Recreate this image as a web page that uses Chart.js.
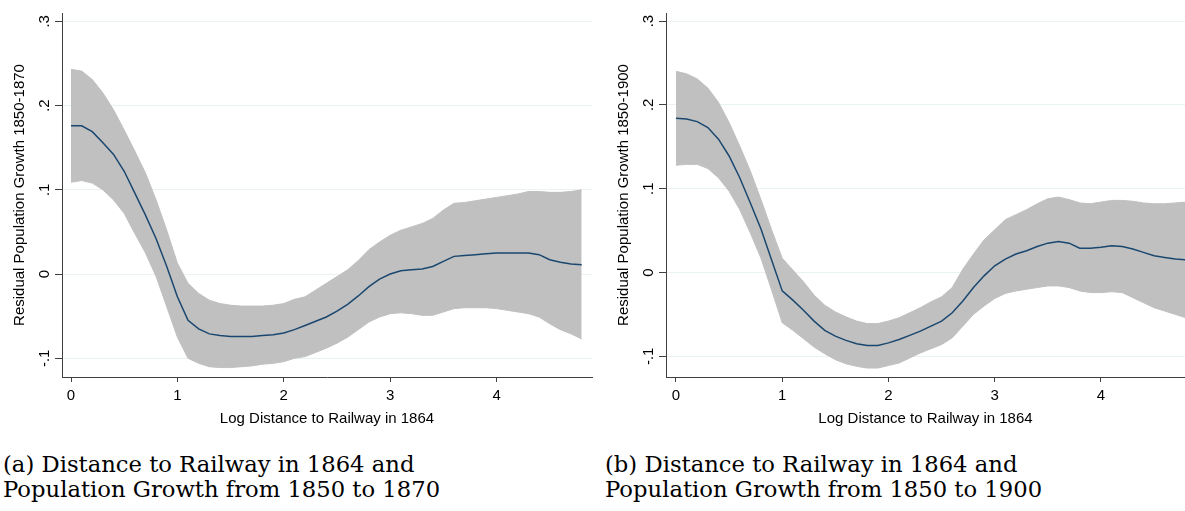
<!DOCTYPE html>
<html>
<head>
<meta charset="utf-8">
<script src="https://cdn.jsdelivr.net/npm/chart.js@4.4.1/dist/chart.umd.min.js"></script>
<style>
  body { margin: 0; background: #fff; width: 1185px; height: 511px; overflow: hidden; position: relative; }
  canvas { position: absolute; top: 0; }
  #left { left: 0; }
  #right { left: 604px; }
  .cap { position: absolute; top: 452px; font-family: 'DejaVu Serif', serif; font-size: 22.7px; line-height: 25px; color: #000; white-space: nowrap; }
</style>
</head>
<body>
<canvas id="left" width="600" height="440"></canvas>
<canvas id="right" width="581" height="440"></canvas>
<div class="cap" style="left:3px">(a) Distance to Railway in 1864 and<br>Population Growth from 1850 to 1870</div>
<div class="cap" style="left:605px">(b) Distance to Railway in 1864 and<br>Population Growth from 1850 to 1900</div>
<script>
// --- DATOS ---
const xVals = [0, 0.1, 0.2, 0.3, 0.4, 0.5, 0.6, 0.7, 0.8, 0.9,
               1.0, 1.1, 1.2, 1.3, 1.4, 1.5, 1.6, 1.7, 1.8, 1.9,
               2.0, 2.1, 2.2, 2.3, 2.4, 2.5, 2.6, 2.7, 2.8, 2.9,
               3.0, 3.1, 3.2, 3.3, 3.4, 3.5, 3.6, 3.7, 3.8, 3.9,
               4.0, 4.1, 4.2, 4.3, 4.4, 4.5, 4.6, 4.7, 4.8];

// panel (a) 1850-1870
const fitA   = [0.176, 0.176, 0.169, 0.156, 0.142, 0.122, 0.096, 0.070, 0.042, 0.009,
                -0.027, -0.055, -0.065, -0.071, -0.073, -0.074, -0.074, -0.074, -0.073, -0.072,
                -0.070, -0.066, -0.061, -0.056, -0.051, -0.044, -0.036, -0.026, -0.015, -0.006,
                0.000, 0.004, 0.005, 0.006, 0.009, 0.015, 0.021, 0.022, 0.023, 0.024,
                0.025, 0.025, 0.025, 0.025, 0.023, 0.017, 0.014, 0.012, 0.011];
const upperA = [0.243, 0.241, 0.231, 0.215, 0.195, 0.171, 0.146, 0.120, 0.088, 0.052,
                0.013, -0.011, -0.023, -0.031, -0.035, -0.037, -0.038, -0.038, -0.038, -0.037,
                -0.035, -0.030, -0.027, -0.019, -0.011, -0.003, 0.005, 0.016, 0.029, 0.038,
                0.046, 0.052, 0.056, 0.060, 0.066, 0.076, 0.084, 0.085, 0.087, 0.089,
                0.091, 0.093, 0.095, 0.098, 0.098, 0.097, 0.097, 0.098, 0.100];
const lowerA = [0.109, 0.111, 0.108, 0.100, 0.088, 0.072, 0.048, 0.025, -0.003, -0.039,
                -0.075, -0.100, -0.106, -0.110, -0.111, -0.111, -0.110, -0.109, -0.107, -0.106,
                -0.104, -0.100, -0.098, -0.093, -0.088, -0.082, -0.075, -0.066, -0.057, -0.051,
                -0.047, -0.046, -0.047, -0.049, -0.049, -0.045, -0.041, -0.040, -0.040, -0.040,
                -0.041, -0.043, -0.045, -0.047, -0.051, -0.059, -0.066, -0.071, -0.077];

// panel (b) 1850-1900
const fitB   = [0.184, 0.183, 0.180, 0.173, 0.159, 0.139, 0.113, 0.083, 0.052, 0.015,
                -0.022, -0.033, -0.045, -0.058, -0.069, -0.076, -0.081, -0.085, -0.087, -0.087,
                -0.084, -0.080, -0.075, -0.070, -0.064, -0.058, -0.048, -0.034, -0.018, -0.004,
                0.008, 0.016, 0.022, 0.026, 0.031, 0.035, 0.037, 0.035, 0.029, 0.029,
                0.030, 0.032, 0.031, 0.028, 0.024, 0.020, 0.018, 0.016, 0.015];
const upperB = [0.240, 0.237, 0.231, 0.220, 0.203, 0.179, 0.151, 0.121, 0.087, 0.051,
                0.017, 0.003, -0.011, -0.027, -0.039, -0.047, -0.053, -0.058, -0.061, -0.061,
                -0.058, -0.054, -0.048, -0.042, -0.035, -0.029, -0.018, 0.004, 0.022, 0.039,
                0.051, 0.063, 0.069, 0.075, 0.082, 0.088, 0.090, 0.087, 0.083, 0.082,
                0.084, 0.086, 0.086, 0.085, 0.083, 0.082, 0.082, 0.083, 0.084];
const lowerB = [0.128, 0.129, 0.129, 0.124, 0.113, 0.097, 0.075, 0.047, 0.017, -0.021,
                -0.060, -0.069, -0.079, -0.089, -0.097, -0.104, -0.109, -0.112, -0.114, -0.114,
                -0.111, -0.108, -0.102, -0.096, -0.091, -0.086, -0.078, -0.064, -0.050, -0.040,
                -0.031, -0.025, -0.022, -0.020, -0.018, -0.016, -0.016, -0.018, -0.022, -0.024,
                -0.024, -0.023, -0.024, -0.030, -0.036, -0.042, -0.046, -0.050, -0.054];

const xTicks = [0, 1, 2, 3, 4];
const yTicks = [-0.1, 0, 0.1, 0.2, 0.3];
const yTickLabels = ['-.1', '0', '.1', '.2', '.3'];
const xTitle = 'Log Distance to Railway in 1864';

// --- ESTILO ---
const FONT = '"Liberation Sans", Arial, sans-serif';
const AXIS = '#404040';
const GRID = '#eaf2f3';
const BAND = '#c0c0c0';
const LINE = '#1a476f';

const pts = ys => xVals.map((x, i) => ({ x: x, y: ys[i] }));

// etiquetas del eje Y giradas (estilo Stata)
const yAxisText = {
    id: 'yAxisText',
    afterDraw(chart, args, opts) {
        const ctx = chart.ctx;
        const y = chart.scales.y;
        const area = chart.chartArea;
        ctx.save();
        ctx.fillStyle = '#000';
        ctx.textAlign = 'center';
        ctx.textBaseline = 'middle';
        ctx.font = '15px ' + FONT;
        yTicks.forEach((v, i) => {
            ctx.save();
            ctx.translate(opts.tickX, y.getPixelForValue(v));
            ctx.rotate(-Math.PI / 2);
            ctx.fillText(yTickLabels[i], 0, 0);
            ctx.restore();
        });
        ctx.translate(opts.titleX, (area.top + area.bottom) / 2);
        ctx.rotate(-Math.PI / 2);
        ctx.fillText(opts.title, 0, 0);
        ctx.restore();
    }
};

function makeChart(id, p) {
    return new Chart(document.getElementById(id), {
        type: 'line',
        data: {
            datasets: [
                { data: pts(p.fit), borderColor: LINE, borderWidth: 1.5, pointRadius: 0, fill: false, tension: 0 },
                { data: pts(p.upper), borderColor: BAND, borderWidth: 1, backgroundColor: BAND, pointRadius: 0, fill: '+1', tension: 0 },
                { data: pts(p.lower), borderColor: BAND, borderWidth: 1, pointRadius: 0, fill: false, tension: 0 }
            ]
        },
        options: {
            responsive: false,
            animation: false,
            layout: { padding: { left: 0, top: 13, right: p.padRight, bottom: 0 } },
            plugins: {
                legend: { display: false },
                tooltip: { enabled: false },
                yAxisText: { tickX: 45, titleX: 20, title: p.yTitle }
            },
            scales: {
                x: {
                    type: 'linear',
                    min: p.xMin, max: p.xMax,
                    afterBuildTicks: s => { s.ticks = xTicks.map(v => ({ value: v })); },
                    afterFit: s => { s.height = 63; },
                    ticks: { color: '#000', font: { family: FONT, size: 15 }, padding: 5, maxRotation: 0 },
                    grid: { drawOnChartArea: false, drawTicks: true, tickLength: 5, tickColor: AXIS },
                    border: { color: AXIS, width: 1 },
                    title: { display: true, text: xTitle, color: '#000', font: { family: FONT, size: 15 }, padding: { top: 0, bottom: 12 } }
                },
                y: {
                    type: 'linear',
                    min: p.yMin, max: p.yMax,
                    afterBuildTicks: s => { s.ticks = yTicks.map(v => ({ value: v })); },
                    afterFit: s => { s.width = 62; },
                    ticks: { display: false },
                    grid: { color: GRID, lineWidth: 1, drawTicks: true, tickLength: 7, tickColor: AXIS },
                    border: { color: AXIS, width: 1 }
                }
            }
        },
        plugins: [yAxisText]
    });
}

makeChart('left', {
    fit: fitA, upper: upperA, lower: lowerA,
    yTitle: 'Residual Population Growth 1850-1870',
    xMin: -0.0846, xMax: 4.897, yMin: -0.1222, yMax: 0.3099, padRight: 8
});
makeChart('right', {
    fit: fitB, upper: upperB, lower: lowerB,
    yTitle: 'Residual Population Growth 1850-1900',
    xMin: -0.094, xMax: 4.791, yMin: -0.1247, yMax: 0.3096, padRight: 0
});
</script>
</body>
</html>
